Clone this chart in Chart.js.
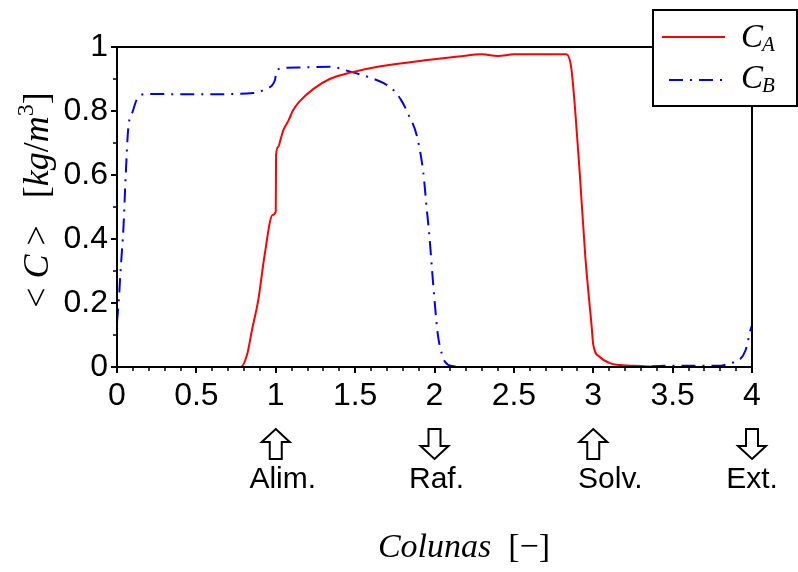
<!DOCTYPE html>
<html>
<head>
<meta charset="utf-8">
<script src="https://cdn.jsdelivr.net/npm/chart.js@4"></script>
<style>
  html, body { margin: 0; padding: 0; background: #fff; }
  #wrap { width: 798px; height: 572px; }
</style>
</head>
<body>
<div id="wrap"><canvas id="grafico"></canvas></div>
<script>
/* ====== dados ====== */
const caX = [0, 0.78, 0.82, 0.85, 0.89, 0.93, 0.98, 1.0, 1.002, 1.016, 1.03, 1.048, 1.08, 1.11, 1.15, 1.24, 1.34, 1.47, 1.66, 1.97, 2.15, 2.3, 2.4, 2.5, 2.83, 2.86, 2.885, 2.915, 2.95, 2.99, 3.0, 3.04, 3.1, 3.17, 3.3, 3.45, 4.0];
const caY = [0, 0, 0.04, 0.115, 0.21, 0.35, 0.475, 0.485, 0.662, 0.688, 0.71, 0.74, 0.77, 0.803, 0.83, 0.87, 0.90, 0.92, 0.94, 0.96, 0.97, 0.977, 0.972, 0.977, 0.977, 0.94, 0.81, 0.605, 0.345, 0.126, 0.07, 0.032, 0.013, 0.006, 0.003, 0, 0];

const cbX = [0, 0.01, 0.025, 0.04, 0.055, 0.07, 0.10, 0.13, 0.19, 0.52, 0.86, 0.94, 0.995, 1.006, 1.07, 1.34, 1.47, 1.59, 1.68, 1.74, 1.79, 1.835, 1.89, 1.93, 1.95, 1.97, 1.985, 2.0, 2.02, 2.045, 2.065, 2.11, 2.2, 3.3, 3.45, 3.8, 3.86, 3.92, 3.96, 3.99, 4.0];
const cbY = [0.14, 0.2, 0.32, 0.43, 0.6, 0.74, 0.80, 0.84, 0.853, 0.852, 0.856, 0.87, 0.897, 0.928, 0.935, 0.938, 0.923, 0.905, 0.887, 0.866, 0.834, 0.79, 0.72, 0.605, 0.50, 0.397, 0.30, 0.21, 0.105, 0.043, 0.017, 0.003, 0, 0, 0.004, 0.004, 0.012, 0.022, 0.053, 0.115, 0.13];

const xTicks = [0, 0.5, 1, 1.5, 2, 2.5, 3, 3.5, 4];
const yTicks = [0, 0.2, 0.4, 0.6, 0.8, 1];

// portas do sistema (posição em colunas)
const portas = ['Alim.', 'Raf.', 'Solv.', 'Ext.'];
const portasX = [1, 2, 3, 4];
const portasSobe = [true, false, true, false];

const serif = '"Liberation Serif", "DejaVu Serif", serif';
const sans = '"Liberation Sans", Arial, sans-serif';

function pontos(xs, ys) {
  return xs.map((x, i) => ({ x: x, y: ys[i] }));
}

function desenhaTexto(ctx, partes, cx, base) {
  let total = 0;
  partes.forEach(p => { ctx.font = p.f; total += ctx.measureText(p.t).width; });
  let x = cx - total / 2;
  partes.forEach(p => {
    ctx.font = p.f;
    ctx.fillText(p.t, x, base + (p.dy || 0));
    x += ctx.measureText(p.t).width;
  });
}

function seta(ctx, cx, top, sobe) {
  const h = 30, hh = 13, hw = 14, sw = 6;
  ctx.beginPath();
  if (sobe) {
    ctx.moveTo(cx, top);
    ctx.lineTo(cx + hw, top + hh);
    ctx.lineTo(cx + sw, top + hh);
    ctx.lineTo(cx + sw, top + h);
    ctx.lineTo(cx - sw, top + h);
    ctx.lineTo(cx - sw, top + hh);
    ctx.lineTo(cx - hw, top + hh);
  } else {
    ctx.moveTo(cx, top + h);
    ctx.lineTo(cx + hw, top + h - hh);
    ctx.lineTo(cx + sw, top + h - hh);
    ctx.lineTo(cx + sw, top);
    ctx.lineTo(cx - sw, top);
    ctx.lineTo(cx - sw, top + h - hh);
    ctx.lineTo(cx - hw, top + h - hh);
  }
  ctx.closePath();
  ctx.stroke();
}

/* ====== moldura, ticks menores, legenda, títulos e portas ====== */
const extras = {
  id: 'extras',
  afterDraw(chart) {
    const ctx = chart.ctx;
    const a = chart.chartArea;
    const sx = chart.scales.x, sy = chart.scales.y;
    ctx.save();
    ctx.strokeStyle = '#000';
    ctx.fillStyle = '#000';

    // moldura de cima e da direita
    ctx.lineWidth = 2;
    ctx.beginPath();
    ctx.moveTo(a.left, a.top);
    ctx.lineTo(a.right, a.top);
    ctx.lineTo(a.right, a.bottom);
    ctx.stroke();

    // ticks menores
    ctx.lineWidth = 1.5;
    ctx.beginPath();
    for (let i = 0; i <= 40; i++) {
      if (i % 5 === 0) continue;
      const px = Math.round(sx.getPixelForValue(i / 10));
      ctx.moveTo(px, a.bottom);
      ctx.lineTo(px, a.bottom + 4);
    }
    for (let i = 0; i <= 10; i++) {
      if (i % 2 === 0) continue;
      const py = Math.round(sy.getPixelForValue(i / 10));
      ctx.moveTo(a.left, py);
      ctx.lineTo(a.left - 4, py);
    }
    ctx.stroke();

    // legenda
    ctx.fillStyle = '#fff';
    ctx.fillRect(653, 10, 144, 96);
    ctx.lineWidth = 2;
    ctx.strokeRect(653, 10, 144, 96);
    ctx.strokeStyle = '#ff0000';
    ctx.beginPath(); ctx.moveTo(662, 37); ctx.lineTo(725, 37); ctx.stroke();
    ctx.strokeStyle = '#0000ff';
    ctx.setLineDash([14, 7, 2, 7]);
    ctx.lineDashOffset = 23;
    ctx.beginPath(); ctx.moveTo(662, 80); ctx.lineTo(722, 80); ctx.stroke();
    ctx.setLineDash([]);
    ctx.fillStyle = '#000';
    ctx.textAlign = 'left';
    ctx.textBaseline = 'alphabetic';
    ctx.font = 'italic 33px ' + serif;
    ctx.fillText('C', 741, 47);
    ctx.fillText('C', 741, 88);
    const wc = ctx.measureText('C').width;
    ctx.font = 'italic 21px ' + serif;
    ctx.fillText('A', 741 + wc - 1, 51);
    ctx.fillText('B', 741 + wc - 1, 92);

    // portas
    ctx.strokeStyle = '#000';
    ctx.lineWidth = 2;
    ctx.lineJoin = 'miter';
    const desloc = [7, 2, 17, 0];
    ctx.font = '30px ' + sans;
    ctx.textAlign = 'center';
    portas.forEach((nome, i) => {
      const px = sx.getPixelForValue(portasX[i]);
      seta(ctx, px, 429, portasSobe[i]);
      ctx.fillText(nome, px + desloc[i], 488);
    });

    // título do eixo x
    ctx.textAlign = 'left';
    desenhaTexto(ctx, [
      { t: 'Colunas', f: 'italic 34px ' + serif },
      { t: '  ', f: '34px ' + serif },
      { t: '[\u2212]', f: '34px ' + serif }
    ], 464, 557);

    // título do eixo y
    ctx.translate(48, 200);
    ctx.rotate(-Math.PI / 2);
    const up = '36px ' + serif, it = 'italic 36px ' + serif;
    desenhaTexto(ctx, [
      { t: '<', f: up }, { t: ' ', f: up }, { t: 'C', f: it }, { t: ' ', f: up },
      { t: '>', f: up }, { t: '   ', f: up }, { t: '[', f: up }, { t: 'kg', f: it },
      { t: '/', f: up }, { t: 'm', f: it }, { t: '3', f: '24px ' + serif, dy: -15 },
      { t: ']', f: up }
    ], 0, 0);
    ctx.restore();
  }
};

const ctx1 = document.getElementById('grafico');

new Chart(ctx1, {
  type: 'line',
  data: {
    datasets: [{
      label: 'CA',
      data: pontos(caX, caY),
      borderColor: '#ff0000',
      borderWidth: 2,
      pointRadius: 0,
      cubicInterpolationMode: 'monotone',
      clip: 4
    }, {
      label: 'CB',
      data: pontos(cbX, cbY),
      borderColor: '#0000ff',
      borderWidth: 2,
      borderDash: [14, 7, 2, 7],
      pointRadius: 0,
      cubicInterpolationMode: 'monotone',
      clip: 4
    }]
  },
  options: {
    responsive: true,
    maintainAspectRatio: false,
    animation: false,
    events: [],
    layout: { padding: { left: 0, top: 47, right: 46, bottom: 0 } },
    plugins: { legend: { display: false }, tooltip: { enabled: false } },
    scales: {
      x: {
        type: 'linear',
        min: 0, max: 4,
        afterBuildTicks(s) { s.ticks = xTicks.map(v => ({ value: v })); },
        afterFit(s) { s.height = 205; },
        ticks: {
          autoSkip: false,
          maxRotation: 0,
          padding: 4,
          color: '#000',
          font: { family: sans, size: 32 },
          callback: v => String(v)
        },
        grid: { drawOnChartArea: false, tickLength: 6, color: '#000', lineWidth: 2 },
        border: { color: '#000', width: 2, z: 1 }
      },
      y: {
        min: 0, max: 1,
        afterBuildTicks(s) { s.ticks = yTicks.map(v => ({ value: v })); },
        afterFit(s) { s.width = 117; },
        ticks: {
          padding: 3,
          color: '#000',
          font: { family: sans, size: 32 },
          callback: v => String(v)
        },
        grid: { drawOnChartArea: false, tickLength: 6, color: '#000', lineWidth: 2 },
        border: { color: '#000', width: 2, z: 1 }
      }
    }
  },
  plugins: [extras]
});
/* FIM ============================================ */
</script>
</body>
</html>
